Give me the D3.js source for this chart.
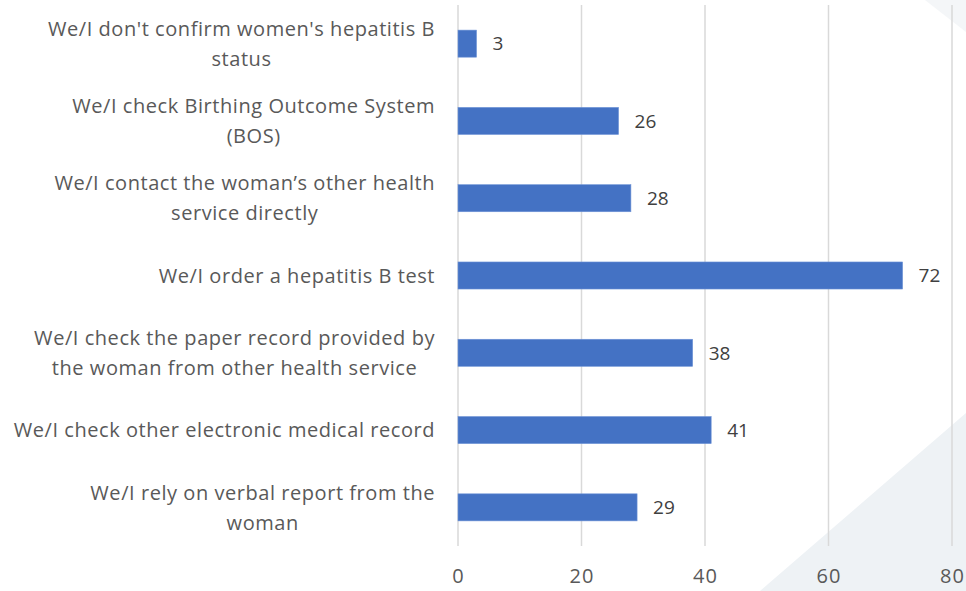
<!DOCTYPE html>
<html>
<head>
<meta charset="utf-8">
<script src="https://cdn.jsdelivr.net/npm/d3@7"></script>
<style>
  body { margin: 0; background: #fff; }
  svg { display: block; font-family: "Open Sans", sans-serif; }
</style>
</head>
<body>
<div id="chart"></div>
<script>
// categories, top to bottom, already split into the lines they show on
const categories = [
    ["We/I don't confirm women's hepatitis B", "status"],
    ["We/I check Birthing Outcome System", "(BOS)"],
    ["We/I contact the woman\u2019s other health", "service directly"],
    ["We/I order a hepatitis B test"],
    ["We/I check the paper record provided by", "the woman from other health service"],
    ["We/I check other electronic medical record"],
    ["We/I rely on verbal report from the", "woman"]
];
const values = [3, 26, 28, 72, 38, 41, 29];
const xTicks = [0, 20, 40, 60, 80];

const width = 966;
const height = 591;

const svg = d3.select('#chart')
    .append('svg')
    .attr('width', width)
    .attr('height', height);

// light decoration from the slide behind the chart
svg.append('polygon')
    .attr('points', `760,${height} ${width},413 ${width},${height}`)
    .attr('fill', '#eef2f5');
svg.append('polygon')
    .attr('points', `925,0 ${width},0 ${width},32`)
    .attr('fill', '#f4f6f8');

const keys = categories.map((c, i) => i);

const x = d3.scaleLinear()
    .domain([0, 80])
    .range([458, 952]);

const y = d3.scaleBand()
    .domain(keys)
    .range([5, 546])
    .paddingInner(0.65)
    .paddingOuter(0.325);

// vertical gridlines
svg.append('g')
    .selectAll('line')
    .data(xTicks)
    .enter()
    .append('line')
    .attr('x1', d => x(d))
    .attr('x2', d => x(d))
    .attr('y1', 5)
    .attr('y2', 546)
    .attr('stroke', '#d9d9d9')
    .attr('stroke-width', 1.5);

// x axis labels
const xAxis = d3.axisBottom(x).tickValues(xTicks).tickSize(0).tickPadding(0);
const gx = svg.append('g')
    .attr('transform', `translate(0, ${569})`)
    .call(xAxis);
gx.select('.domain').remove();
gx.selectAll('text')
    .attr('font-size', 20)
    .attr('letter-spacing', 1)
    .attr('font-family', '"Open Sans", sans-serif')
    .attr('fill', '#595959');

// bars
svg.append('g')
    .selectAll('rect')
    .data(values)
    .enter()
    .append('rect')
    .attr('x', x(0))
    .attr('y', (d, i) => y(i))
    .attr('width', d => x(d) - x(0))
    .attr('height', y.bandwidth())
    .attr('fill', '#4472c4')
    .attr('stroke', '#6e93d6')
    .attr('stroke-width', 0.6);

// value labels
svg.append('g')
    .selectAll('text')
    .data(values)
    .enter()
    .append('text')
    .attr('x', d => x(d) + 16)
    .attr('y', (d, i) => y(i) + y.bandwidth() / 2)
    .attr('dy', '0.36em')
    .attr('font-size', 19)
    .attr('fill', '#404040')
    .text(d => d);

// category labels, lines centred, block right-aligned to 435
const lineHeight = 30;
const labels = svg.append('g');
categories.forEach((lines, i) => {
    const cy = y(i) + y.bandwidth() / 2;
    const g = labels.append('g');
    const texts = g.selectAll('text')
        .data(lines)
        .enter()
        .append('text')
        .attr('y', (d, j) => cy + (j - (lines.length - 1) / 2) * lineHeight)
        .attr('dy', '0.36em')
        .attr('font-size', 20)
        .attr('letter-spacing', 0.55)
        .attr('fill', '#595959')
        .attr('text-anchor', 'middle')
        .text(d => d);
    let maxW = 0;
    texts.each(function () { maxW = Math.max(maxW, this.getComputedTextLength()); });
    texts.attr('x', 435 - maxW / 2);
});
</script>
</body>
</html>
